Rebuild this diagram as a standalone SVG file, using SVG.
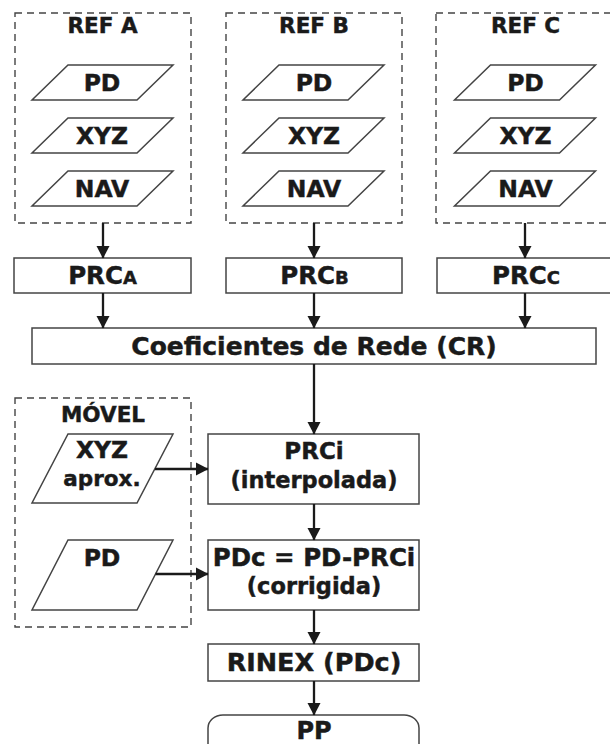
<svg xmlns="http://www.w3.org/2000/svg" width="610" height="744" viewBox="0 0 610 744">
<style>
  text { font-family: "DejaVu Sans", Verdana, sans-serif; font-weight: bold; fill: #1a1a1a; stroke: #1a1a1a; stroke-width: 0.45; text-anchor: middle; }
  .dash { fill: none; stroke: #444; stroke-width: 1.4; stroke-dasharray: 7 5; }
  .box { fill: #fff; stroke: #444; stroke-width: 1.5; }
  .title { font-size: 21.5px; }
  .in { font-size: 23.5px; }
  .prc { font-size: 24.5px; }
  .sub { font-size: 18px; }
  .mid { font-size: 22.5px; }
  .conn line { stroke: #1a1a1a; stroke-width: 2.3; marker-end: url(#arr); }
</style>
<defs>
  <marker id="arr" markerUnits="userSpaceOnUse" markerWidth="14" markerHeight="14" viewBox="0 -7 13 14" refX="12" refY="0" orient="auto">
    <path d="M0,-6.5 L12.5,0 L0,6.5 z" fill="#1a1a1a"/>
  </marker>
  <polygon id="para" points="-34.5,0 70.5,0 34.5,35 -70.5,35" class="box"/>
</defs>
<rect width="610" height="744" fill="#fff"/>

<g id="refA">
  <rect class="dash" x="15" y="13" width="176" height="210"/>
  <text class="title" x="102.5" y="33">REF A</text>
  <g id="refA-pd"><use href="#para" x="102.5" y="65"/><text class="in" x="102" y="91">PD</text></g>
  <g id="refA-xyz"><use href="#para" x="102.5" y="118"/><text class="in" x="102" y="144">XYZ</text></g>
  <g id="refA-nav"><use href="#para" x="102.5" y="171"/><text class="in" x="102" y="197">NAV</text></g>
</g>
<g id="refB">
  <rect class="dash" x="226" y="13" width="176" height="210"/>
  <text class="title" x="314" y="33">REF B</text>
  <g id="refB-pd"><use href="#para" x="313.5" y="65"/><text class="in" x="314" y="91">PD</text></g>
  <g id="refB-xyz"><use href="#para" x="313.5" y="118"/><text class="in" x="314" y="144">XYZ</text></g>
  <g id="refB-nav"><use href="#para" x="313.5" y="171"/><text class="in" x="314" y="197">NAV</text></g>
</g>
<g id="refC">
  <rect class="dash" x="436" y="13" width="178" height="210"/>
  <text class="title" x="525.5" y="33">REF C</text>
  <g id="refC-pd"><use href="#para" x="525" y="65"/><text class="in" x="525.5" y="91">PD</text></g>
  <g id="refC-xyz"><use href="#para" x="525" y="118"/><text class="in" x="525.5" y="144">XYZ</text></g>
  <g id="refC-nav"><use href="#para" x="525" y="171"/><text class="in" x="525.5" y="197">NAV</text></g>
</g>

<g id="prcA"><rect class="box" x="14" y="258" width="177" height="35"/><text class="prc" x="102.5" y="284">PRC<tspan class="sub">A</tspan></text></g>
<g id="prcB"><rect class="box" x="226" y="258" width="176" height="35"/><text class="prc" x="314.5" y="284">PRC<tspan class="sub">B</tspan></text></g>
<g id="prcC"><rect class="box" x="437" y="258" width="178" height="35"/><text class="prc" x="526" y="284">PRC<tspan class="sub">C</tspan></text></g>

<g id="cr"><rect class="box" x="32" y="328" width="564" height="36"/><text x="314" y="355" style="font-size:25px">Coeficientes de Rede (CR)</text></g>

<g id="movel">
  <rect class="dash" x="15" y="398" width="176" height="229"/>
  <text class="title" x="103" y="422">MÓVEL</text>
  <g id="movel-xyz">
    <polygon class="box" points="68,434 173,434 137,503 32,503"/>
    <text class="in" x="102" y="458">XYZ</text>
    <text x="102" y="486" style="font-size:21.5px">aprox.</text>
  </g>
  <g id="movel-pd">
    <polygon class="box" points="68,540 173,540 137,610 32,610"/>
    <text class="in" x="102" y="566">PD</text>
  </g>
</g>

<g id="prci"><rect class="box" x="208" y="434" width="211" height="70"/>
  <text x="314" y="459" style="font-size:23px">PRCi</text>
  <text class="mid" x="314" y="488">(interpolada)</text></g>
<g id="pdc"><rect class="box" x="208" y="540" width="211" height="70"/>
  <text x="314" y="566" style="font-size:24.5px">PDc = PD-PRCi</text>
  <text class="mid" x="314" y="594">(corrigida)</text></g>
<g id="rinex"><rect class="box" x="208" y="644" width="211" height="37"/>
  <text x="314" y="671" style="font-size:25.5px">RINEX (PDc)</text></g>
<g id="pp"><rect class="box" x="208" y="715" width="211" height="50" rx="15" ry="13"/>
  <text x="314" y="739" style="font-size:24px">PP</text></g>

<g id="connectors" class="conn">
  <line x1="103" y1="223" x2="103" y2="258"/>
  <line x1="314" y1="223" x2="314" y2="258"/>
  <line x1="525" y1="223" x2="525" y2="258"/>
  <line x1="103" y1="293" x2="103" y2="328"/>
  <line x1="314" y1="293" x2="314" y2="328"/>
  <line x1="525" y1="293" x2="525" y2="328"/>
  <line x1="314" y1="364" x2="314" y2="434"/>
  <line x1="155" y1="469" x2="208" y2="469"/>
  <line x1="155.5" y1="574" x2="208" y2="574"/>
  <line x1="314" y1="504" x2="314" y2="540"/>
  <line x1="314" y1="610" x2="314" y2="644"/>
  <line x1="314" y1="681" x2="314" y2="715"/>
</g>
</svg>
